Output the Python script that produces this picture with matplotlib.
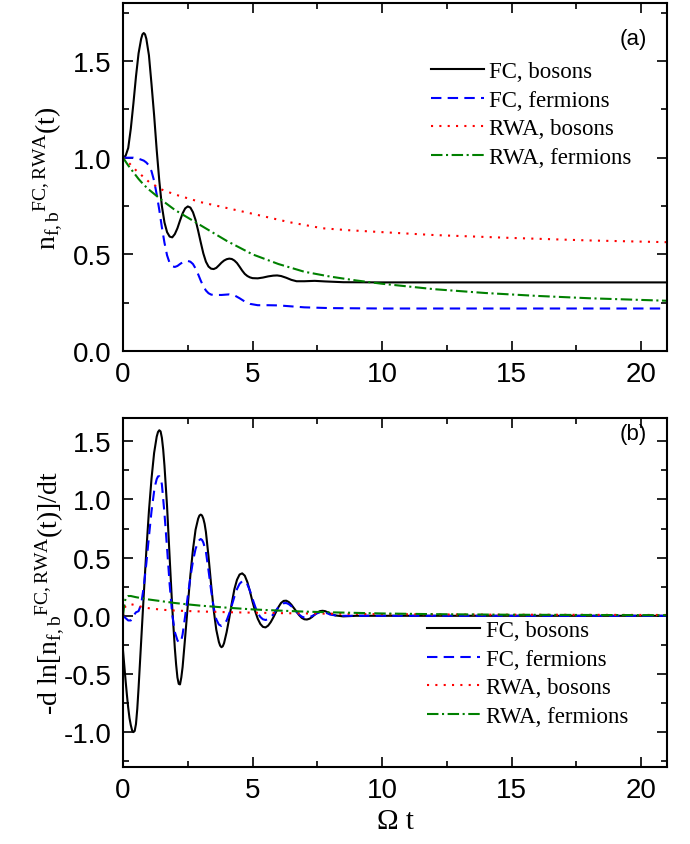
import matplotlib
matplotlib.use("Agg")
import matplotlib.pyplot as plt
from matplotlib.ticker import MultipleLocator

plt.rcParams['font.family'] = ['Liberation Sans', 'DejaVu Sans']
plt.rcParams['mathtext.fontset'] = 'custom'
plt.rcParams['mathtext.rm'] = 'Liberation Serif'
plt.rcParams['mathtext.it'] = 'Liberation Serif:italic'

# ---------------- panel (a): n(t) ----------------
t_a_fcb = [0, 0.1, 0.2, 0.3, 0.4, 0.5, 0.6, 0.7, 0.75, 0.8, 0.85, 0.9, 1.0, 1.1, 1.2,
           1.3, 1.4, 1.5, 1.6, 1.7, 1.8, 1.9, 2.0, 2.1, 2.2, 2.3, 2.4, 2.5, 2.6, 2.7,
           2.8, 2.9, 3.0, 3.1, 3.2, 3.3, 3.4, 3.5, 3.6, 3.7, 3.8, 3.9, 4.0, 4.1, 4.2,
           4.3, 4.4, 4.5, 4.6, 4.7, 4.8, 4.9, 5.0, 5.2, 5.4, 5.6, 5.8, 5.95, 6.1, 6.3,
           6.5, 6.7, 7.0, 7.4, 7.8, 8.5, 10, 21]
n_fc_bosons = [1.00, 1.01, 1.05, 1.15, 1.28, 1.42, 1.54, 1.615, 1.638, 1.645, 1.638,
               1.615, 1.53, 1.38, 1.22, 1.04, 0.88, 0.75, 0.665, 0.615, 0.592, 0.588,
               0.605, 0.635, 0.675, 0.712, 0.738, 0.748, 0.742, 0.718, 0.678, 0.622,
               0.562, 0.505, 0.462, 0.437, 0.426, 0.424, 0.43, 0.443, 0.457, 0.468,
               0.475, 0.478, 0.476, 0.468, 0.455, 0.436, 0.416, 0.399, 0.388, 0.381,
               0.377, 0.376, 0.38, 0.386, 0.39, 0.391, 0.388, 0.379, 0.368, 0.361,
               0.361, 0.363, 0.36, 0.356, 0.355, 0.355]

t_a_fcf = [0, 0.2, 0.4, 0.6, 0.8, 0.9, 1.0, 1.1, 1.2, 1.3, 1.4, 1.5, 1.6, 1.7, 1.8, 1.9,
           2.0, 2.1, 2.2, 2.3, 2.4, 2.5, 2.6, 2.7, 2.8, 2.9, 3.0, 3.1, 3.2, 3.3, 3.4,
           3.5, 3.8, 4.1, 4.3, 4.5, 4.7, 4.9, 5.2, 5.6, 6.0, 6.5, 7.0, 8.0, 10, 21]
n_fc_fermions = [1.0, 1.0, 1.0, 0.995, 0.985, 0.975, 0.96, 0.93, 0.88, 0.81, 0.73, 0.64,
                 0.56, 0.495, 0.455, 0.438, 0.435, 0.44, 0.45, 0.459, 0.465, 0.466,
                 0.462, 0.45, 0.427, 0.397, 0.364, 0.335, 0.313, 0.299, 0.292, 0.29,
                 0.29, 0.293, 0.288, 0.273, 0.256, 0.244, 0.237, 0.237, 0.236, 0.231,
                 0.226, 0.222, 0.22, 0.22]

t_a_rwab = [0, 0.25, 0.5, 0.75, 1.0, 1.5, 2.0, 2.5, 3.0, 4.0, 5.0, 6.4, 7.7, 8.7, 10,
            12, 15, 18, 21]
n_rwa_bosons = [1.0, 0.97, 0.935, 0.905, 0.875, 0.835, 0.81, 0.79, 0.77, 0.74, 0.71,
                0.667, 0.635, 0.625, 0.615, 0.60, 0.585, 0.572, 0.563]

t_a_rwaf = [0, 0.2, 0.4, 0.6, 0.8, 1.0, 1.5, 2.0, 2.5, 3.0, 3.5, 4.0, 5.0, 6.0, 7.0, 8.0,
            9.0, 10, 12, 14, 16, 18, 21]
n_rwa_fermions = [1.0, 0.96, 0.925, 0.89, 0.86, 0.835, 0.78, 0.73, 0.69, 0.65, 0.61,
                  0.57, 0.50, 0.45, 0.41, 0.385, 0.365, 0.348, 0.32, 0.30, 0.285,
                  0.273, 0.26]

# ---------------- panel (b): -d ln n / dt ----------------
t_b_fcb = [0, 0.05, 0.1, 0.15, 0.2, 0.25, 0.3, 0.35, 0.4, 0.45, 0.5, 0.55, 0.6, 0.7,
           0.8, 0.9, 1.0, 1.1, 1.2, 1.3, 1.35, 1.4, 1.45, 1.5, 1.55, 1.6, 1.7, 1.8,
           1.9, 2.0, 2.05, 2.1, 2.15, 2.2, 2.25, 2.3, 2.4, 2.5, 2.6, 2.7, 2.8, 2.9,
           2.95, 3.0, 3.05, 3.1, 3.15, 3.2, 3.3, 3.4, 3.5, 3.6, 3.7, 3.75, 3.8, 3.85,
           3.9, 4.0, 4.1, 4.2, 4.3, 4.4, 4.5, 4.6, 4.7, 4.8, 4.9, 5.0, 5.1, 5.2, 5.3,
           5.4, 5.5, 5.6, 5.7, 5.8, 5.9, 6.0, 6.1, 6.2, 6.3, 6.4, 6.5, 6.6, 6.7, 6.8,
           6.9, 7.0, 7.1, 7.2, 7.3, 7.4, 7.5, 7.6, 7.7, 7.8, 7.9, 8.0, 8.2, 8.5, 9.0, 21]
r_fc_bosons = [-0.30, -0.43, -0.56, -0.68, -0.79, -0.88, -0.94, -0.985, -1.0, -0.99,
               -0.93, -0.80, -0.62, -0.22, 0.18, 0.56, 0.90, 1.18, 1.40, 1.54, 1.58,
               1.595, 1.585, 1.53, 1.43, 1.29, 0.94, 0.50, 0.07, -0.28, -0.42, -0.53,
               -0.585, -0.59, -0.53, -0.44, -0.18, 0.09, 0.35, 0.57, 0.74, 0.835,
               0.862, 0.87, 0.862, 0.835, 0.79, 0.72, 0.51, 0.27, 0.05, -0.12, -0.225,
               -0.257, -0.27, -0.262, -0.235, -0.14, -0.02, 0.11, 0.23, 0.31, 0.355,
               0.365, 0.345, 0.29, 0.21, 0.12, 0.04, -0.025, -0.07, -0.095, -0.1,
               -0.085, -0.055, -0.015, 0.03, 0.075, 0.11, 0.128, 0.13, 0.118, 0.095,
               0.065, 0.035, 0.005, -0.018, -0.03, -0.032, -0.025, -0.01, 0.01, 0.028,
               0.04, 0.043, 0.04, 0.03, 0.018, 0.003, -0.005, 0.0, 0.0]

t_b_fcf = [0, 0.1, 0.2, 0.3, 0.4, 0.5, 0.6, 0.7, 0.8, 0.9, 1.0, 1.1, 1.2, 1.25, 1.3,
           1.35, 1.4, 1.45, 1.5, 1.6, 1.7, 1.8, 1.9, 2.0, 2.1, 2.15, 2.2, 2.25, 2.3, 2.4,
           2.5, 2.6, 2.7, 2.8, 2.9, 2.95, 3.0, 3.05, 3.1, 3.2, 3.3, 3.4, 3.5, 3.6, 3.7,
           3.8, 3.9, 4.0, 4.1, 4.2, 4.3, 4.4, 4.5, 4.6, 4.7, 4.8, 4.9, 5.0, 5.1, 5.2,
           5.3, 5.4, 5.5, 5.6, 5.7, 5.8, 5.9, 6.0, 6.1, 6.2, 6.3, 6.4, 6.5, 6.6, 6.7,
           6.8, 6.9, 7.0, 7.1, 7.2, 7.3, 7.4, 7.5, 7.6, 7.7, 7.8, 7.9, 8.0, 8.3, 9.0, 21]
r_fc_fermions = [0.0, -0.02, -0.04, -0.04, 0.0, 0.03, 0.04, 0.10, 0.25, 0.45, 0.68,
                 0.90, 1.07, 1.13, 1.175, 1.198, 1.2, 1.18, 1.13, 0.88, 0.58, 0.27,
                 0.01, -0.14, -0.21, -0.228, -0.23, -0.21, -0.16, 0.0, 0.17, 0.33, 0.47,
                 0.575, 0.635, 0.652, 0.66, 0.652, 0.63, 0.55, 0.39, 0.22, 0.07, -0.03,
                 -0.075, -0.088, -0.075, -0.04, 0.02, 0.09, 0.165, 0.23, 0.275, 0.297,
                 0.298, 0.27, 0.215, 0.145, 0.08, 0.025, -0.01, -0.03, -0.036, -0.03,
                 -0.012, 0.012, 0.045, 0.075, 0.097, 0.108, 0.11, 0.1, 0.082, 0.058,
                 0.033, 0.01, -0.007, -0.015, -0.017, -0.012, -0.002, 0.01, 0.022,
                 0.03, 0.032, 0.028, 0.02, 0.01, 0.0, 0.0, 0.0]

t_b_rwab = [0, 0.05, 0.1, 0.2, 0.3, 0.5, 0.75, 1.0, 1.5, 2.0, 3.0, 4.0, 5.0, 6.0, 8.0,
            10, 14, 21]
r_rwa_bosons = [0.0, 0.05, 0.085, 0.10, 0.10, 0.09, 0.075, 0.065, 0.052, 0.045, 0.037,
                0.031, 0.027, 0.023, 0.018, 0.014, 0.010, 0.007]

t_b_rwaf = [0, 0.05, 0.1, 0.2, 0.3, 0.5, 0.75, 1.0, 1.5, 2.0, 2.5, 3.0, 4.0, 5.0, 6.0,
            7.0, 8.0, 10, 12, 15, 21]
r_rwa_fermions = [0.0, 0.10, 0.15, 0.17, 0.17, 0.16, 0.15, 0.14, 0.125, 0.11, 0.098,
                  0.087, 0.07, 0.055, 0.045, 0.036, 0.03, 0.02, 0.014, 0.009, 0.005]

labels = ['FC, bosons', 'FC, fermions', 'RWA, bosons', 'RWA, fermions']
xticks = [0, 5, 10, 15, 20]

styles = [
    dict(color='black', lw=1.5, ls='-'),
    dict(color='#0000ff', lw=1.5, ls=(0, (5, 3))),
    dict(color='#ff0000', lw=1.5, ls=(0, (1, 3))),
    dict(color='#008000', lw=1.5, ls=(0, (5.5, 1.7, 1, 1.7))),
]

fig = plt.figure(figsize=(6.9, 8.45), dpi=100)
ax1 = fig.add_axes([0.1783, 0.5834, 0.7884, 0.4118])
ax2 = fig.add_axes([0.1783, 0.0911, 0.7884, 0.4130])

serif = ['Liberation Serif', 'DejaVu Serif']

def style_axes(ax):
    ax.set_xlim(0, 21)
    ax.set_xticks(xticks)
    ax.xaxis.set_minor_locator(MultipleLocator(2.5))
    ax.yaxis.set_minor_locator(MultipleLocator(0.25))
    ax.tick_params(which='both', direction='in', top=True, right=True, width=1.2)
    ax.tick_params(which='major', length=7, labelsize=20)
    ax.tick_params(which='minor', length=4)
    ax.tick_params(axis='x', pad=7)
    ax.tick_params(axis='y', pad=8)
    for s in ax.spines.values():
        s.set_linewidth(1.5)

series_a = [(t_a_fcb, n_fc_bosons), (t_a_fcf, n_fc_fermions),
            (t_a_rwab, n_rwa_bosons), (t_a_rwaf, n_rwa_fermions)]
series_b = [(t_b_fcb, r_fc_bosons), (t_b_fcf, r_fc_fermions),
            (t_b_rwab, r_rwa_bosons), (t_b_rwaf, r_rwa_fermions)]

for (x, y), st, lab in zip(series_a, styles, labels):
    ax1.plot(x, y, label=lab, **st)
for (x, y), st, lab in zip(series_b, styles, labels):
    ax2.plot(x, y, label=lab, **st)

style_axes(ax1)
ax1.set_ylim(0, 1.8)
ax1.set_yticks([0.0, 0.5, 1.0, 1.5])
ax1.set_yticklabels(['0.0', '0.5', '1.0', '1.5'])
style_axes(ax2)
ax2.set_ylim(-1.3, 1.7)
ax2.set_yticks([-1.0, -0.5, 0.0, 0.5, 1.0, 1.5])
ax2.set_yticklabels(['-1.0', '-0.5', '0.0', '0.5', '1.0', '1.5'])

leg_kw = dict(frameon=False, loc='upper left', borderaxespad=0, borderpad=0,
              handlelength=2.3, handletextpad=0.25, labelspacing=0.33,
              prop={'family': serif, 'size': 16.5})
ax1.legend(bbox_to_anchor=(0.566, 0.833), **leg_kw)
ax2.legend(bbox_to_anchor=(0.559, 0.421), **leg_kw)

ax1.text(0.9375, 0.897, '(a)', transform=ax1.transAxes, ha='center', va='center',
         fontsize=16)
ax2.text(0.9375, 0.955, '(b)', transform=ax2.transAxes, ha='center', va='center',
         fontsize=16)

ax1.set_ylabel(r'n$_{\mathrm{f,b}}{}^{\mathrm{FC,RWA}}$(t)', family=serif, fontsize=20)
ax1.yaxis.set_label_coords(-0.108, 0.5)
ax2.set_ylabel(r'-d ln[n$_{\mathrm{f,b}}{}^{\mathrm{FC,RWA}}$(t)]/dt', family=serif,
               fontsize=20)
ax2.yaxis.set_label_coords(-0.105, 0.5)
ax2.set_xlabel('\u03a9 t', family=serif, fontsize=21, labelpad=4)

fig.savefig('out.png', dpi=100)
